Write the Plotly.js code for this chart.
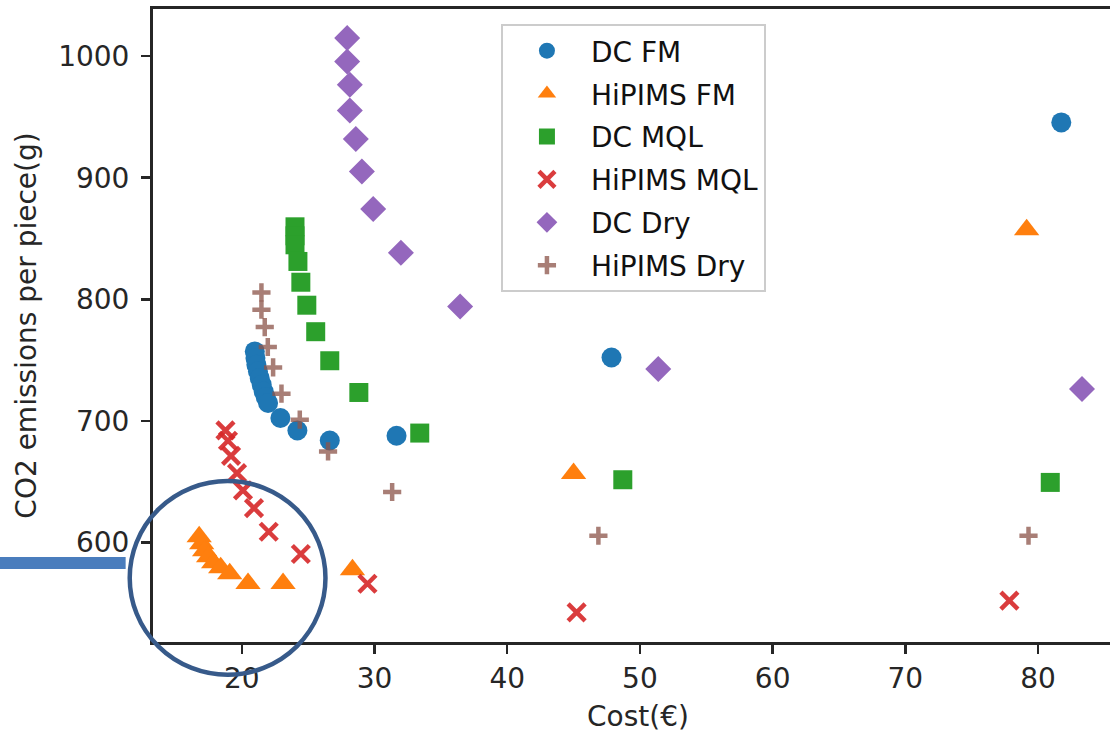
<!DOCTYPE html>
<html>
<head>
<meta charset="utf-8">
<script src="https://cdn.plot.ly/plotly-3.0.1.min.js"></script>
<style>
  html, body { margin: 0; padding: 0; overflow: hidden; background: #ffffff; }
  #chart { width: 1124px; height: 733px; }
</style>
</head>
<body>
<div id="chart"></div>
<script>
// ---- data ----
const dcFmCost = [20.98, 21.03, 21.10, 21.22, 21.35, 21.50, 21.65, 21.80, 21.98, 22.91, 24.19, 26.63, 31.66, 47.86, 81.75];
const dcFmCo2  = [757.1, 751.6, 746.1, 740.6, 735.2, 729.7, 724.1, 719.5, 714.6, 702.3, 692.0, 683.8, 687.7, 752.1, 945.5];

const hipimsFmCost = [16.79, 16.98, 17.20, 17.50, 17.88, 18.41, 19.09, 20.47, 23.11, 28.34, 45.00, 79.14];
const hipimsFmCo2  = [604.6, 598.9, 593.1, 588.2, 583.2, 579.1, 574.2, 566.2, 566.2, 577.4, 656.7, 857.2];

const dcMqlCost = [24.01, 24.01, 24.01, 24.23, 24.45, 24.90, 25.57, 26.63, 28.82, 33.41, 48.71, 80.92];
const dcMqlCo2  = [859.6, 852.2, 844.8, 831.1, 814.0, 795.1, 773.3, 749.4, 723.3, 689.9, 651.5, 649.3];

const hipimsMqlCost = [18.77, 18.96, 19.19, 19.64, 20.09, 20.92, 22.03, 24.45, 29.47, 45.23, 77.84];
const hipimsMqlCo2  = [692.1, 683.6, 671.2, 657.0, 642.7, 628.2, 608.7, 590.4, 565.9, 542.3, 552.0];

const dcDryCost = [27.94, 27.94, 28.14, 28.14, 28.59, 29.05, 29.90, 31.99, 36.45, 51.38, 83.31];
const dcDryCo2  = [1014.9, 995.6, 976.5, 955.3, 931.8, 905.1, 874.2, 838.2, 794.1, 742.6, 726.1];

const hipimsDryCost = [21.48, 21.48, 21.73, 21.96, 22.36, 22.99, 24.37, 26.50, 31.33, 46.87, 79.28];
const hipimsDryCo2  = [805.6, 791.4, 777.1, 760.7, 743.9, 722.3, 700.9, 674.8, 641.4, 605.4, 605.4];

const seriesNames = ["DC FM", "HiPIMS FM", "DC MQL", "HiPIMS MQL", "DC Dry", "HiPIMS Dry"];
const xTicks = [20, 30, 40, 50, 60, 70, 80];
const yTicks = [600, 700, 800, 900, 1000];

// ---- traces ----
const FONT = "DejaVu Sans, Verdana, sans-serif";
function tr(x, y, i, marker) {
  return { type: "scatter", mode: "markers", x: x, y: y, name: seriesNames[i],
           legendgroup: "g" + i, marker: marker, hoverinfo: "skip" };
}
const traces = [
  tr(dcFmCost, dcFmCo2, 0, { symbol: "circle", size: 20, color: "#1f77b4", line: { width: 0 } }),
  tr(hipimsFmCost, hipimsFmCo2, 1, { symbol: "triangle-up", size: 22, color: "#ff7f0e", line: { width: 0 } }),
  tr(dcMqlCost, dcMqlCo2, 2, { symbol: "square", size: 19, color: "#2ca02c", line: { width: 0 } }),
  tr(hipimsMqlCost, hipimsMqlCo2, 3, { symbol: "x-thin", size: 17, color: "#d62728", line: { width: 4.5, color: "rgba(214,39,40,0.9)" } }),
  tr(dcDryCost, dcDryCo2, 4, { symbol: "diamond", size: 20, color: "#9467bd", line: { width: 0 } }),
  tr(hipimsDryCost, hipimsDryCo2, 5, { symbol: "cross-thin", size: 13, color: "#8c564b", line: { width: 4.5, color: "rgba(140,86,75,0.76)" } })
];

const axisCommon = {
  showgrid: false, zeroline: false, showline: true, linecolor: "#262626", linewidth: 3,
  ticks: "outside", ticklen: 9, tickwidth: 2.5, tickcolor: "#262626",
  tickfont: { family: FONT, size: 28, color: "#262626" }
};

const layout = {
  width: 1124, height: 733,
  margin: { l: 153, r: 1, t: 9, b: 91 },
  paper_bgcolor: "#ffffff", plot_bgcolor: "#ffffff",
  showlegend: true,
  xaxis: Object.assign({}, axisCommon, {
    range: [13.31, 86.4], tickvals: xTicks, ticktext: xTicks.map(String), mirror: true,
    ticklabelstandoff: 0,
    title: { text: "Cost(€)", font: { family: FONT, size: 28, color: "#262626" }, standoff: 14 }
  }),
  yaxis: Object.assign({}, axisCommon, {
    range: [518, 1038.8], tickvals: yTicks, ticktext: yTicks.map(String),
    ticklabelstandoff: 6,
    title: { text: "CO2 emissions per piece(g)", font: { family: FONT, size: 28, color: "#262626" }, standoff: 14 }
  }),
  legend: {
    x: 0.3587, y: 0.9763, xanchor: "left", yanchor: "top",
    bgcolor: "#ffffff", bordercolor: "#cccccc", borderwidth: 2,
    font: { family: FONT, size: 28, color: "#111111" },
    tracegroupgap: 3.5, itemwidth: 78, traceorder: "grouped"
  },
  shapes: [
    { type: "circle", xref: "paper", yref: "paper", x0: -0.024, x1: 0.1778, y0: -0.0517, y1: 0.2543,
      line: { color: "#375a8a", width: 4.5 }, layer: "above" },
    { type: "rect", xref: "paper", yref: "paper", x0: -0.1581, x1: -0.0282, y0: 0.1153, y1: 0.1343,
      line: { width: 0 }, fillcolor: "#4a7dbd", layer: "above" }
  ]
};

Plotly.newPlot("chart", traces, layout, { staticPlot: true, displayModeBar: false });
</script>
</body>
</html>
